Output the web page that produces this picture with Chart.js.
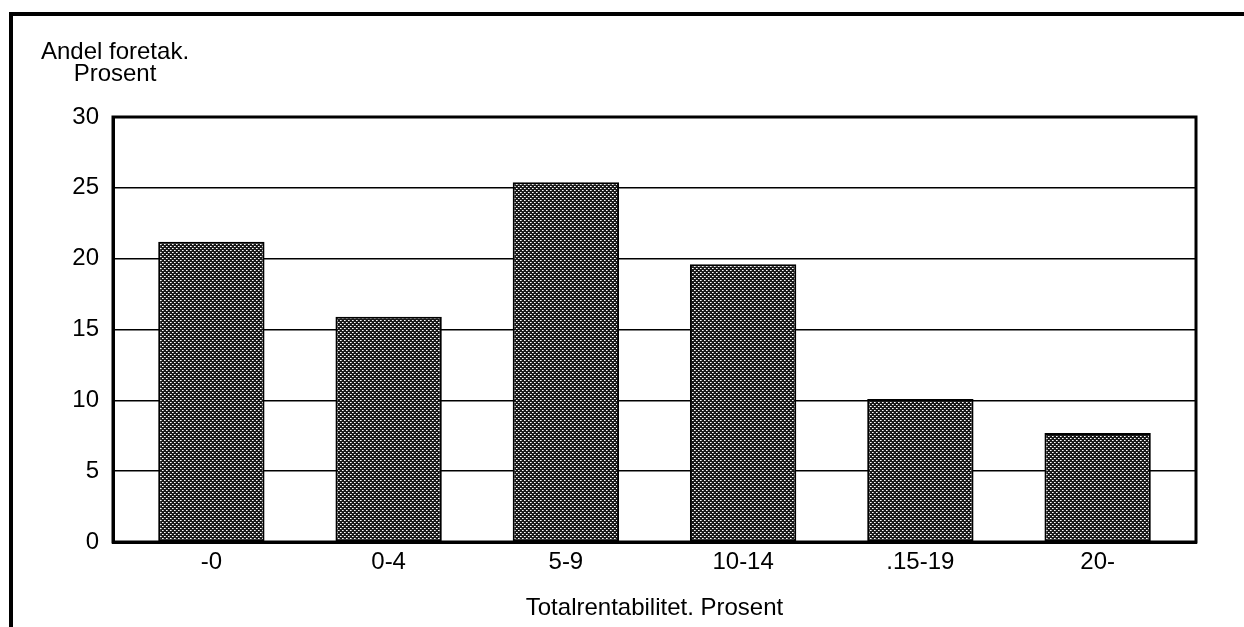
<!DOCTYPE html>
<html>
<head>
<meta charset="utf-8">
<script src="https://cdn.jsdelivr.net/npm/chart.js@4/dist/chart.umd.min.js"></script>
<style>
  html, body { margin: 0; padding: 0; background: #fff; }
  #wrap { width: 1244px; height: 627px; position: relative; }
</style>
</head>
<body>
<div id="wrap"><canvas id="chart" width="1244" height="627"></canvas></div>
<script>
// data
const categories = ["-0", "0-4", "5-9", "10-14", ".15-19", "20-"];
const andelForetak = [21.2, 15.9, 25.4, 19.6, 10.1, 7.7];
const yTicks = [0, 5, 10, 15, 20, 25, 30];
const yTitle = ["Andel foretak.", "Prosent"];
const xTitle = "Totalrentabilitet. Prosent";

const FONT = "'Liberation Sans', Arial, sans-serif";
const SIZE = 24;

// dotted raster fill like the printed bars
const makePattern = () => {
  const c = document.createElement("canvas");
  c.width = 4; c.height = 4;
  const g = c.getContext("2d");
  g.fillStyle = "#1a1a1a";
  g.fillRect(0, 0, 4, 4);
  g.fillStyle = "#ffffff";
  g.fillRect(0, 0, 1, 1);
  g.fillRect(2, 2, 1, 1);
  g.fillStyle = "#aaaaaa";
  g.fillRect(1, 0, 1, 1);
  g.fillRect(3, 2, 1, 1);
  return g.createPattern(c, "repeat");
};

// outer box, plot frame and the horizontal y title
const decor = {
  id: "decor",
  beforeDraw(chart) {
    const ctx = chart.ctx;
    ctx.save();
    ctx.strokeStyle = "#000";
    ctx.lineWidth = 4;
    ctx.beginPath();
    ctx.moveTo(11, 627);
    ctx.lineTo(11, 14);
    ctx.lineTo(1244, 14);
    ctx.stroke();
    ctx.restore();
  },
  afterDraw(chart) {
    const ctx = chart.ctx;
    const a = chart.chartArea;
    ctx.save();
    ctx.strokeStyle = "#000";
    ctx.lineWidth = 3;
    ctx.strokeRect(a.left, a.top, a.right - a.left, a.bottom - a.top);
    ctx.fillStyle = "#000";
    ctx.font = SIZE + "px " + FONT;
    ctx.textAlign = "center";
    ctx.textBaseline = "middle";
    ctx.fillText(yTitle[0], 115, 52);
    ctx.fillText(yTitle[1], 115, 74);
    ctx.restore();
  }
};

new Chart(document.getElementById("chart"), {
  type: "bar",
  data: {
    datasets: [{
      data: andelForetak.map((v, i) => ({ x: i, y: v })),
      backgroundColor: makePattern(),
      borderColor: "#000",
      borderWidth: 2,
      borderSkipped: false,
      categoryPercentage: 1,
      barPercentage: 0.6
    }]
  },
  options: {
    responsive: false,
    animation: false,
    layout: { padding: { top: 117, right: 48, left: 0, bottom: 0 } },
    plugins: { legend: { display: false }, tooltip: { enabled: false } },
    scales: {
      x: {
        type: "linear",
        offset: false,
        bounds: "data",
        min: -0.555,
        max: 5.555,
        afterBuildTicks: (s) => { s.ticks = categories.map((c, i) => ({ value: i })); },
        afterFit: (s) => { s.height = 85; },
        grid: { display: false, drawTicks: false, offset: false },
        border: { display: true, color: "#000", width: 3 },
        ticks: {
          padding: 6,
          color: "#000",
          font: { family: FONT, size: SIZE },
          callback: (v) => categories[v]
        },
        title: {
          display: true,
          text: xTitle,
          color: "#000",
          font: { family: FONT, size: SIZE },
          padding: { top: 0, bottom: 4 }
        }
      },
      y: {
        min: 0,
        max: 30,
        afterBuildTicks: (s) => { s.ticks = yTicks.map((v) => ({ value: v })); },
        afterFit: (s) => { s.width = 113; },
        grid: { color: "#000", lineWidth: 1.5, drawTicks: false },
        border: { display: true, color: "#000", width: 3 },
        ticks: {
          padding: 14,
          color: "#000",
          font: { family: FONT, size: SIZE }
        }
      }
    }
  },
  plugins: [decor]
});
</script>
</body>
</html>
